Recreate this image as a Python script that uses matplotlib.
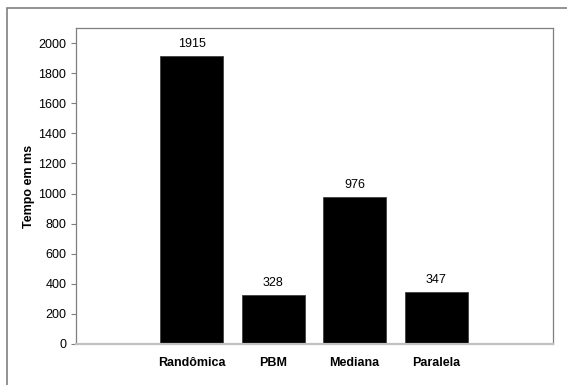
import matplotlib.pyplot as plt
from matplotlib.patches import Rectangle

# tempos medidos (ms) para cada estrategia
categorias = ["Randômica", "PBM", "Mediana", "Paralela"]
tempos = [1915, 328, 976, 347]
yticks = [0, 200, 400, 600, 800, 1000, 1200, 1400, 1600, 1800, 2000]

plt.rcParams['font.family'] = ['Liberation Sans', 'DejaVu Sans']

W, H = 567, 385
fig = plt.figure(figsize=(W / 100, H / 100), dpi=100)

# moldura externa (so as bordas esquerda e superior aparecem)
fig.patches.append(Rectangle((7 / W, -0.05), 1.2, 1 - 8 / H + 0.05,
                             transform=fig.transFigure, fill=False,
                             edgecolor='#7f7f7f', linewidth=1.2))

ax = fig.add_axes([76 / W, 1 - 344 / H, (552.7 - 76) / W, (344 - 28) / H])

pos = list(range(1, len(categorias) + 1))
bars = ax.bar(pos, tempos, width=0.77, color='black', edgecolor='#404040',
              linewidth=0.6, zorder=2)
for b, v in zip(bars, tempos):
    ax.text(b.get_x() + b.get_width() / 2, v + 40, str(v),
            ha='center', va='bottom', fontsize=9)

ax.set_xlim(-0.42, 5.43)
ax.set_ylim(0, 2100)
ax.set_yticks(yticks)
ax.set_xticks(pos)
ax.set_xticklabels(categorias, fontweight='bold', fontsize=9)
ax.tick_params(axis='x', length=0, pad=9)
ax.tick_params(axis='y', length=3.5, width=0.8, color='#7f7f7f',
               labelsize=9, pad=3.5)
ax.set_ylabel("Tempo em ms", fontweight='bold', fontsize=9, labelpad=2)

for side in ('top', 'right', 'left'):
    ax.spines[side].set_color('#7f7f7f')
    ax.spines[side].set_linewidth(0.9)
ax.spines['bottom'].set_color('#c0c0c0')
ax.spines['bottom'].set_linewidth(1.6)

fig.savefig("out.png", dpi=100)
